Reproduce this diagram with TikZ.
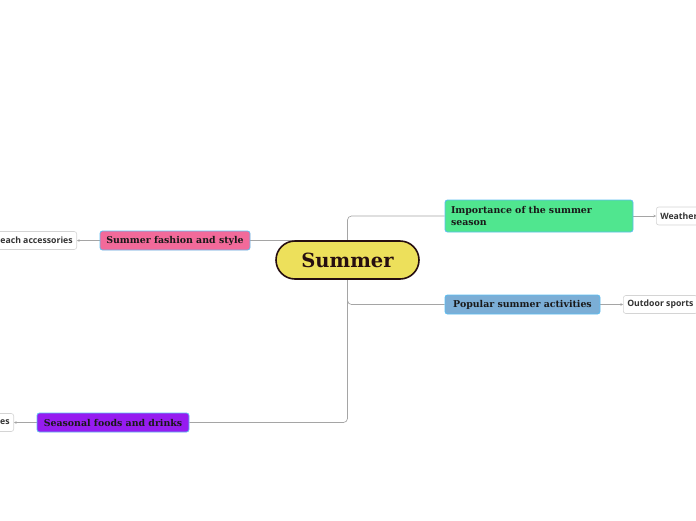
\documentclass[tikz,border=0pt]{standalone}
\usepackage{fontspec}
\setmainfont{DejaVu Serif}
\newfontfamily\leaffont{Open Sans}
\newfontfamily\heavyfont{DejaVu Serif}
\usetikzlibrary{arrows.meta}
\pgfdeclarelayer{edgelayer}
\pgfdeclarelayer{nodelayer}
\pgfsetlayers{edgelayer,nodelayer,main}
\definecolor{sunyellow}{RGB}{237,224,91}
\definecolor{darkrim}{RGB}{38,14,16}
\definecolor{pinkfill}{RGB}{242,106,154}
\definecolor{mintfill}{RGB}{80,230,143}
\definecolor{skyfill}{RGB}{123,174,214}
\definecolor{violetfill}{RGB}{150,28,240}
\definecolor{rimblue}{RGB}{92,190,240}
\definecolor{leafrim}{RGB}{212,212,212}
\definecolor{wire}{RGB}{165,165,165}
\tikzstyle{core}=[rounded corners=19pt,fill=sunyellow,draw=darkrim,line width=1.6pt,minimum width=143pt,minimum height=38pt,inner sep=0pt,text=darkrim,font=\heavyfont\bfseries\fontsize{19.5}{20}\selectfont]
\tikzstyle{branch}=[rounded corners=2.5pt,draw=rimblue,line width=0.8pt,minimum height=19pt,inner sep=0pt,text=black!90,font=\bfseries\fontsize{9.4}{11.5}\selectfont]
\tikzstyle{pink}=[branch,fill=pinkfill]
\tikzstyle{mint}=[branch,fill=mintfill]
\tikzstyle{sky}=[branch,fill=skyfill]
\tikzstyle{violet}=[branch,fill=violetfill]
\tikzstyle{leaf}=[rounded corners=2.5pt,fill=white,draw=leafrim,line width=0.6pt,minimum height=18pt,inner xsep=4pt,inner ysep=0pt,font=\leaffont\bfseries\fontsize{8.7}{10}\selectfont,text=black!80]
\tikzstyle{wire}=[draw=wire,line width=0.7pt,rounded corners=4pt]
\tikzstyle{twig}=[draw=wire,line width=0.6pt,-{Stealth[length=2.5pt,width=2.5pt]}]

\begin{document}
\begin{tikzpicture}[x=1pt,y=1pt]
					\useasboundingbox (0,0) rectangle (696,-520);
					\begin{pgfonlayer}{nodelayer}
						\node [style=core] (0) at (347.5,-260.000) {Summer};
						\node [style=pink,minimum width=150pt] (1) at (175.000,-240.500) {Summer fashion and style};
						\node [style=mint,minimum width=188pt,minimum height=32pt,text width=176pt,align=left] (2) at (539.000,-216.000) {Importance of the summer\\season};
						\node [style=sky,minimum width=155pt] (3) at (522.500,-304.500) {Popular summer activities};
						\node [style=violet,minimum width=152pt] (4) at (113.000,-422.500) {Seasonal foods and drinks};
						\node [style=leaf,anchor=east] (5) at (77.000,-240.500) {Beach accessories};
						\node [style=leaf,anchor=west] (6) at (656.000,-216.000) {Weather};
						\node [style=leaf,anchor=west] (7) at (623.000,-304.500) {Outdoor sports};
						\node [style=leaf,anchor=east] (8) at (14.000,-422.500) {Summer treats and recipes};
					\end{pgfonlayer}
					\begin{pgfonlayer}{edgelayer}
						\draw [style=wire] (1.east) -- (1.east -| 0.center);
						\draw [style=wire] (0.center) |- (2.west);
						\draw [style=wire] (0.center) |- (3.west);
						\draw [style=wire] (0.center) |- (4.east);
						\draw [style=twig] (1.west) -- (5.east);
						\draw [style=twig] (2.east) -- (6.west);
						\draw [style=twig] (3.east) -- (7.west);
						\draw [style=twig] (4.west) -- (8.east);
					\end{pgfonlayer}
				\end{tikzpicture}
\end{document}
